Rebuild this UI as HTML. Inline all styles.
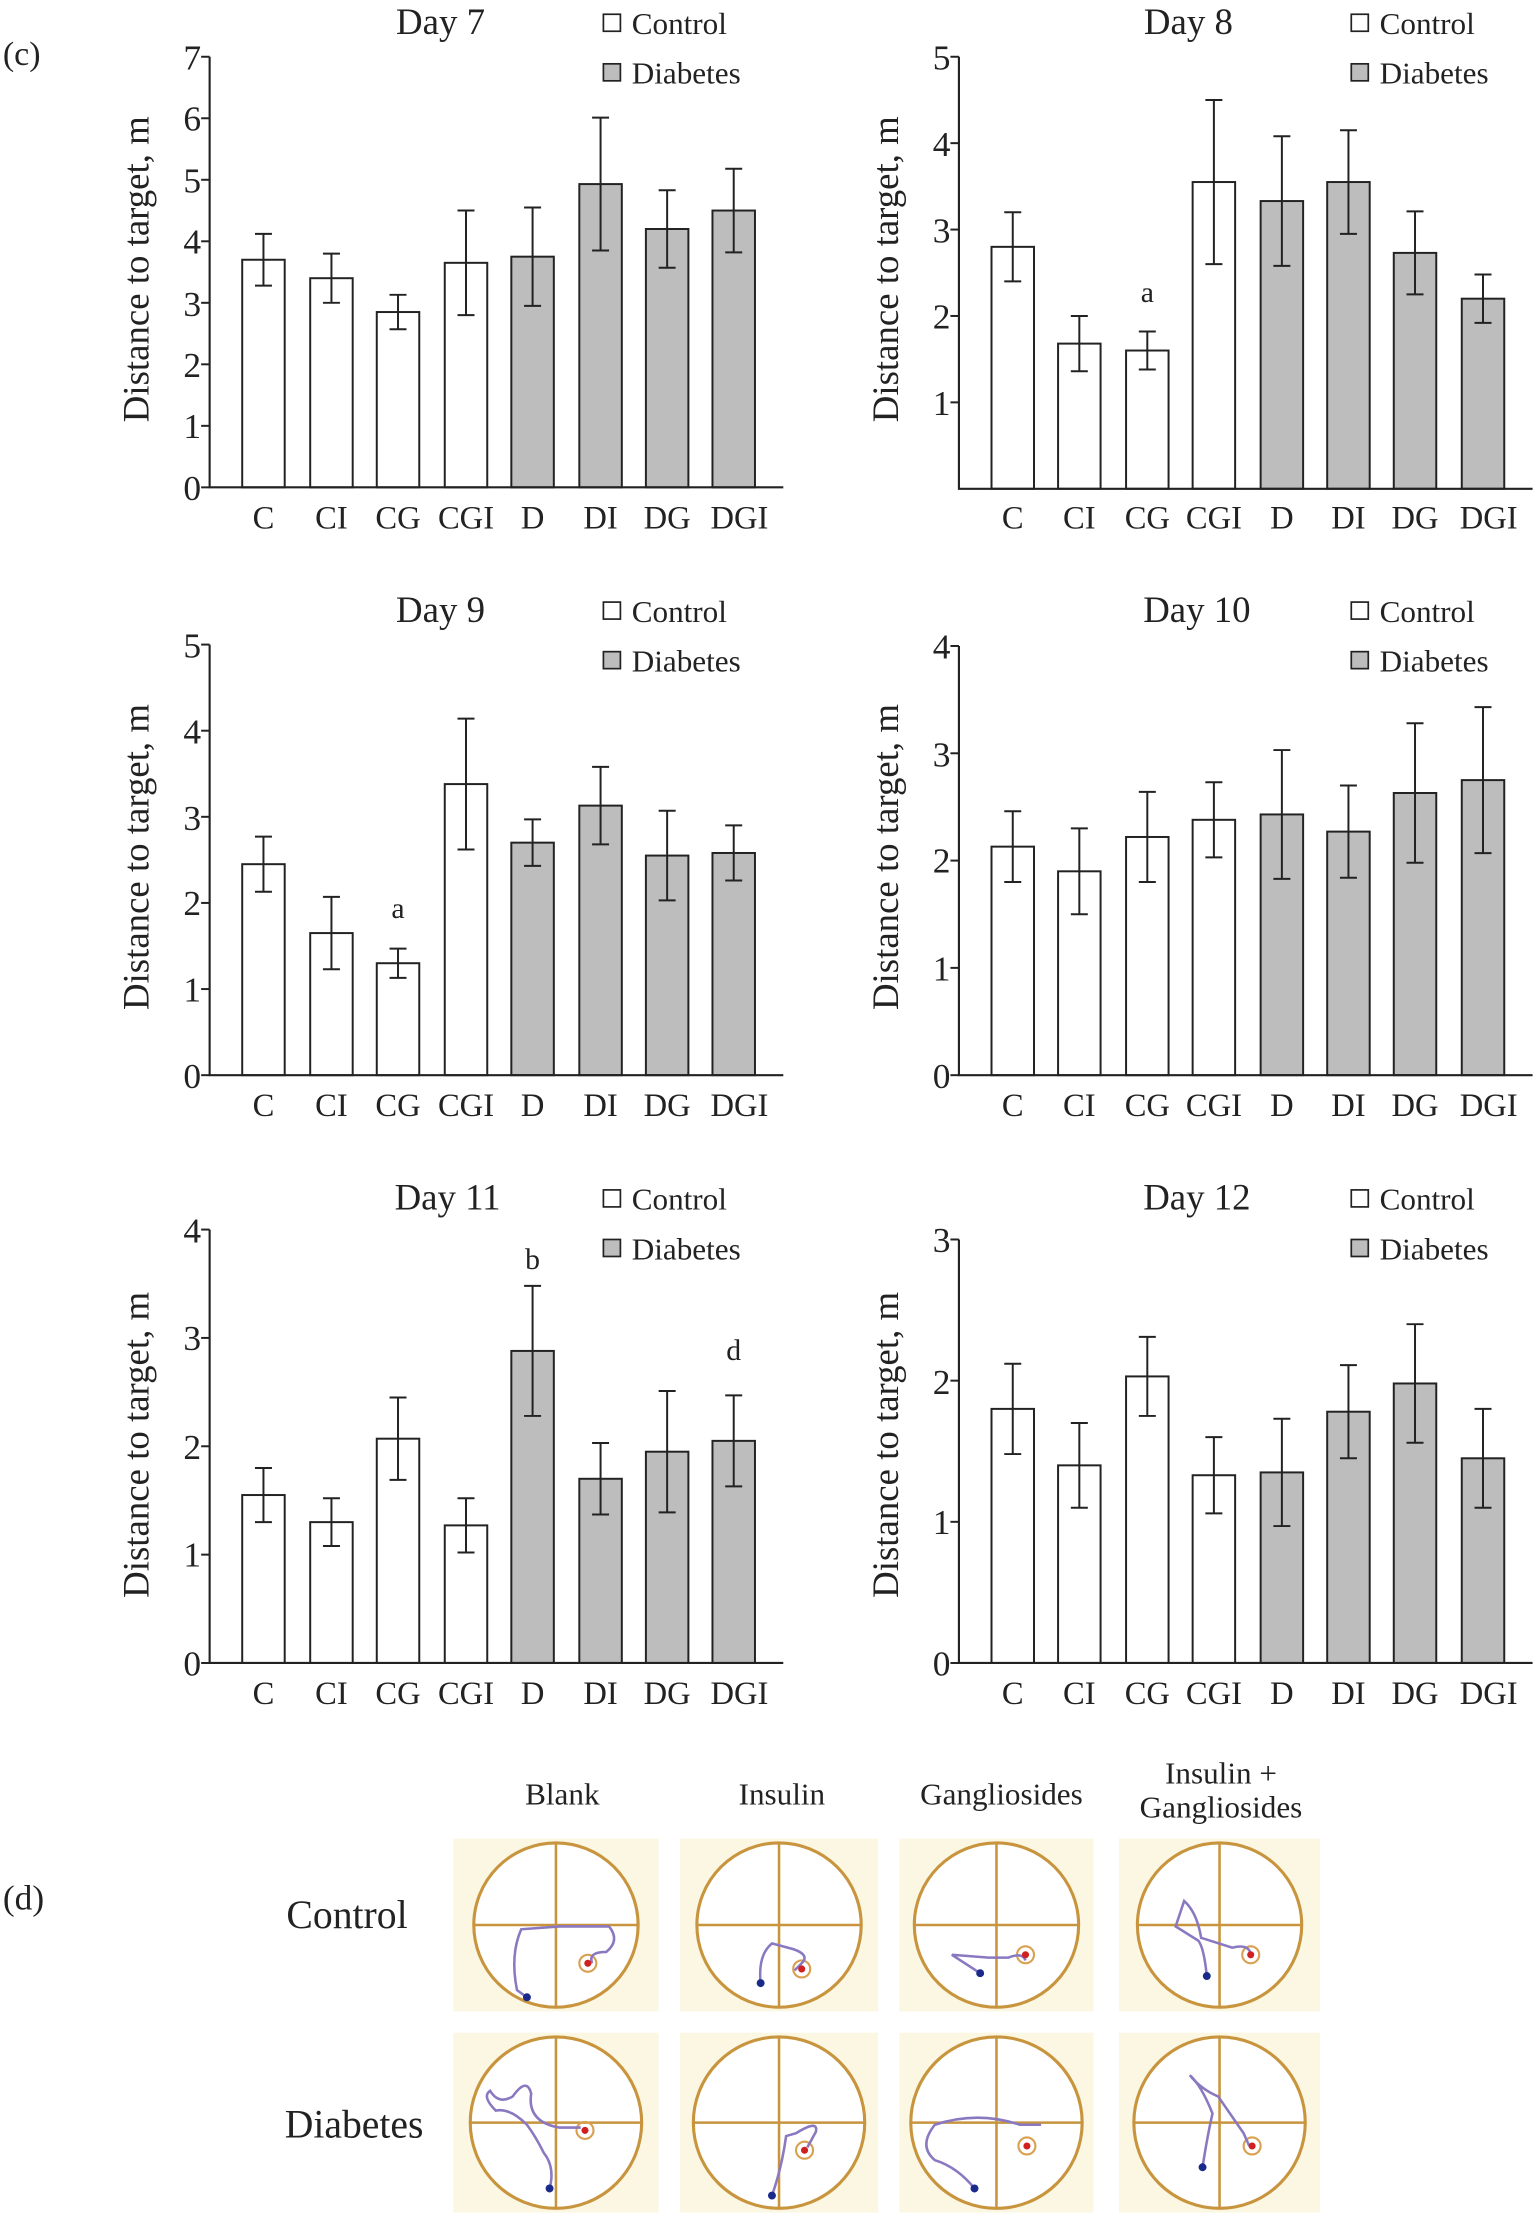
<!DOCTYPE html>
<html><head><meta charset="utf-8"><style>
html,body{margin:0;padding:0;background:#fff}
svg{display:block}
text{font-family:"Liberation Serif",serif;fill:#222}
</style></head><body>
<svg id="s" width="1534" height="2224" viewBox="0 0 1083 1570" xmlns="http://www.w3.org/2000/svg">
<g font-size="22">
<text x="2" y="46" font-size="24">(c)</text>
<g font-size="26" text-anchor="middle">
<text x="311" y="24">Day 7</text>
<text x="839" y="24">Day 8</text>
<text x="311" y="439">Day 9</text>
<text x="845" y="439">Day 10</text>
<text x="316" y="854">Day 11</text>
<text x="845" y="854">Day 12</text>
</g>
<g font-size="22">
<rect x="426" y="10" width="12" height="12" fill="#fff" stroke="#222" stroke-width="1.2"/><text x="446" y="24">Control</text>
<rect x="426" y="45" width="12" height="12" fill="#bdbdbd" stroke="#222" stroke-width="1.2"/><text x="446" y="59">Diabetes</text>
<rect x="954" y="10" width="12" height="12" fill="#fff" stroke="#222" stroke-width="1.2"/><text x="974" y="24">Control</text>
<rect x="954" y="45" width="12" height="12" fill="#bdbdbd" stroke="#222" stroke-width="1.2"/><text x="974" y="59">Diabetes</text>
<rect x="426" y="425" width="12" height="12" fill="#fff" stroke="#222" stroke-width="1.2"/><text x="446" y="439">Control</text>
<rect x="426" y="460" width="12" height="12" fill="#bdbdbd" stroke="#222" stroke-width="1.2"/><text x="446" y="474">Diabetes</text>
<rect x="954" y="425" width="12" height="12" fill="#fff" stroke="#222" stroke-width="1.2"/><text x="974" y="439">Control</text>
<rect x="954" y="460" width="12" height="12" fill="#bdbdbd" stroke="#222" stroke-width="1.2"/><text x="974" y="474">Diabetes</text>
<rect x="426" y="840" width="12" height="12" fill="#fff" stroke="#222" stroke-width="1.2"/><text x="446" y="854">Control</text>
<rect x="426" y="875" width="12" height="12" fill="#bdbdbd" stroke="#222" stroke-width="1.2"/><text x="446" y="889">Diabetes</text>
<rect x="954" y="840" width="12" height="12" fill="#fff" stroke="#222" stroke-width="1.2"/><text x="974" y="854">Control</text>
<rect x="954" y="875" width="12" height="12" fill="#bdbdbd" stroke="#222" stroke-width="1.2"/><text x="974" y="889">Diabetes</text>
</g>
<g font-size="26" text-anchor="middle">
<text transform="translate(105,190) rotate(-90)">Distance to target, m</text>
<text transform="translate(634,190) rotate(-90)">Distance to target, m</text>
<text transform="translate(105,605) rotate(-90)">Distance to target, m</text>
<text transform="translate(634,605) rotate(-90)">Distance to target, m</text>
<text transform="translate(105,1020) rotate(-90)">Distance to target, m</text>
<text transform="translate(634,1020) rotate(-90)">Distance to target, m</text>
</g>
<g text-anchor="end" font-size="25">
<text x="142" y="353">0</text><text x="142" y="309">1</text><text x="142" y="266">2</text><text x="142" y="223">3</text><text x="142" y="179">4</text><text x="142" y="136">5</text><text x="142" y="92">6</text><text x="142" y="49">7</text>
<text x="671" y="293">1</text><text x="671" y="232">2</text><text x="671" y="171">3</text><text x="671" y="110">4</text><text x="671" y="49">5</text>
<text x="142" y="768">0</text><text x="142" y="707">1</text><text x="142" y="646">2</text><text x="142" y="586">3</text><text x="142" y="525">4</text><text x="142" y="464">5</text>
<text x="671" y="768">0</text><text x="671" y="692">1</text><text x="671" y="616">2</text><text x="671" y="541">3</text><text x="671" y="465">4</text>
<text x="142" y="1183">0</text><text x="142" y="1106">1</text><text x="142" y="1030">2</text><text x="142" y="953">3</text><text x="142" y="877">4</text>
<text x="671" y="1183">0</text><text x="671" y="1083">1</text><text x="671" y="984">2</text><text x="671" y="884">3</text>
</g>
<g text-anchor="middle" font-size="23">
<text x="186" y="373">C</text><text x="234" y="373">CI</text><text x="281" y="373">CG</text><text x="329" y="373">CGI</text><text x="376" y="373">D</text><text x="424" y="373">DI</text><text x="471" y="373">DG</text><text x="522" y="373">DGI</text>
<text x="715" y="373">C</text><text x="762" y="373">CI</text><text x="810" y="373">CG</text><text x="857" y="373">CGI</text><text x="905" y="373">D</text><text x="952" y="373">DI</text><text x="999" y="373">DG</text><text x="1051" y="373">DGI</text>
<text x="186" y="788">C</text><text x="234" y="788">CI</text><text x="281" y="788">CG</text><text x="329" y="788">CGI</text><text x="376" y="788">D</text><text x="424" y="788">DI</text><text x="471" y="788">DG</text><text x="522" y="788">DGI</text>
<text x="715" y="788">C</text><text x="762" y="788">CI</text><text x="810" y="788">CG</text><text x="857" y="788">CGI</text><text x="905" y="788">D</text><text x="952" y="788">DI</text><text x="999" y="788">DG</text><text x="1051" y="788">DGI</text>
<text x="186" y="1203">C</text><text x="234" y="1203">CI</text><text x="281" y="1203">CG</text><text x="329" y="1203">CGI</text><text x="376" y="1203">D</text><text x="424" y="1203">DI</text><text x="471" y="1203">DG</text><text x="522" y="1203">DGI</text>
<text x="715" y="1203">C</text><text x="762" y="1203">CI</text><text x="810" y="1203">CG</text><text x="857" y="1203">CGI</text><text x="905" y="1203">D</text><text x="952" y="1203">DI</text><text x="999" y="1203">DG</text><text x="1051" y="1203">DGI</text>
</g>
<g text-anchor="middle" font-size="21">
<text x="810" y="213">a</text><text x="281" y="648">a</text><text x="376" y="896">b</text><text x="518" y="960">d</text>
</g>
<text x="2" y="1348" font-size="25">(d)</text>
<g font-size="22" text-anchor="middle">
<text x="397" y="1274">Blank</text><text x="552" y="1274">Insulin</text><text x="707" y="1274">Gangliosides</text>
<text x="862" y="1259">Insulin +</text><text x="862" y="1283">Gangliosides</text>
</g>
<text x="245" y="1361" font-size="28" text-anchor="middle">Control</text>
<text x="250" y="1509" font-size="28" text-anchor="middle">Diabetes</text>
</g>
<g id="g"></g>
</svg>
<script>
var g=document.getElementById('g'),NS='http://www.w3.org/2000/svg';
function el(t,a){var e=document.createElementNS(NS,t);for(var k in a)e.setAttribute(k,a[k]);g.appendChild(e);return e;}
var L=[186,234,281,329,376,424,471,518],R=[715,762,810,857,905,952,999,1047];
var P=[
 {cx:L,ax:148,xe:553,y0:344,top:40,max:7,tk:[0,1,2,3,4,5,6,7],d:[[3.7,.42],[3.4,.4],[2.85,.28],[3.65,.85],[3.75,.8],[4.93,1.08],[4.2,.63],[4.5,.68]]},
 {cx:R,ax:677,xe:1082,y0:345,top:40,max:5,tk:[1,2,3,4,5],d:[[2.8,.4],[1.68,.32],[1.6,.22],[3.55,.95],[3.33,.75],[3.55,.6],[2.73,.48],[2.2,.28]]},
 {cx:L,ax:148,xe:553,y0:759,top:455,max:5,tk:[0,1,2,3,4,5],d:[[2.45,.32],[1.65,.42],[1.3,.17],[3.38,.76],[2.7,.27],[3.13,.45],[2.55,.52],[2.58,.32]]},
 {cx:R,ax:677,xe:1082,y0:759,top:456,max:4,tk:[0,1,2,3,4],d:[[2.13,.33],[1.9,.4],[2.22,.42],[2.38,.35],[2.43,.6],[2.27,.43],[2.63,.65],[2.75,.68]]},
 {cx:L,ax:148,xe:553,y0:1174,top:868,max:4,tk:[0,1,2,3,4],d:[[1.55,.25],[1.3,.22],[2.07,.38],[1.27,.25],[2.88,.6],[1.7,.33],[1.95,.56],[2.05,.42]]},
 {cx:R,ax:677,xe:1082,y0:1174,top:875,max:3,tk:[0,1,2,3],d:[[1.8,.32],[1.4,.3],[2.03,.28],[1.33,.27],[1.35,.38],[1.78,.33],[1.98,.42],[1.45,.35]]}
];
P.forEach(function(p){
 var s=(p.y0-p.top)/p.max;
 p.d.forEach(function(v,i){
  var x=p.cx[i],y=p.y0-v[0]*s;
  el('rect',{x:x-15,y:y,width:30,height:p.y0-y,fill:i<4?'#fff':'#bdbdbd',stroke:'#222','stroke-width':1.4});
  var a=p.y0-(v[0]+v[1])*s,b=p.y0-(v[0]-v[1])*s;
  el('path',{d:'M'+x+' '+a+'V'+b+'M'+(x-6)+' '+a+'H'+(x+6)+'M'+(x-6)+' '+b+'H'+(x+6),stroke:'#222','stroke-width':1.4,fill:'none'});
 });
 el('path',{d:'M'+p.ax+' '+p.top+'V'+p.y0+'H'+p.xe,stroke:'#222','stroke-width':1.5,fill:'none'});
 p.tk.forEach(function(t){var y=p.y0-t*s;el('path',{d:'M'+(p.ax-6)+' '+y+'H'+p.ax,stroke:'#222','stroke-width':1.4});});
});
var C=[[320,465],[480,620],[635,772],[790,932]],Rw=[[1298,1420],[1435,1562]];
var paths=[
 ['M372 1410 L365 1405 Q360 1380 368 1362 L395 1360 L430 1360 Q438 1370 428 1378 Q415 1378 418 1386',415,1386],
 ['M537 1400 Q535 1380 545 1372 L560 1376 Q572 1380 566 1386 Q560 1392 562 1390',566,1390],
 ['M692 1393 L672 1380 L698 1382 L712 1382 Q722 1378 724 1384',724,1380],
 ['M852 1395 Q850 1375 846 1370 L830 1360 L836 1342 Q845 1350 848 1368 L870 1375 Q882 1372 883 1380',883,1380],
 ['M388 1545 Q392 1530 384 1520 Q378 1508 372 1500 Q360 1488 350 1490 Q340 1480 346 1476 Q352 1486 362 1480 Q372 1466 375 1478 Q372 1498 395 1502 L410 1502',413,1504],
 ['M545 1550 Q552 1530 555 1508 L562 1506 Q578 1496 576 1505 L570 1516',568,1518],
 ['M688 1545 Q676 1530 660 1525 Q648 1515 660 1500 Q690 1490 720 1500 L735 1500',725,1515],
 ['M849 1530 Q852 1510 856 1492 Q848 1472 840 1465 Q848 1475 860 1480 L878 1506 L882 1515',884,1515]
];
for(var r=0;r<2;r++)for(var c=0;c<4;c++){
 var x0=C[c][0],x1=C[c][1],y0=Rw[r][0],y1=Rw[r][1],cx=(x0+x1)/2,cy=(y0+y1)/2,rr=Math.min(x1-x0,y1-y0)/2-3;
 el('rect',{x:x0,y:y0,width:x1-x0,height:y1-y0,fill:'#fbf7e2'});
 el('circle',{cx:cx,cy:cy,r:rr,fill:'#fff',stroke:'#c8953e','stroke-width':2.2});
 el('path',{d:'M'+(cx-rr)+' '+cy+'H'+(cx+rr)+'M'+cx+' '+(cy-rr)+'V'+(cy+rr),stroke:'#c8953e','stroke-width':1.8});
 var pp=paths[r*4+c];
 el('circle',{cx:pp[1],cy:pp[2],r:6,fill:'none',stroke:'#d9a050','stroke-width':1.5});
 el('path',{d:pp[0],fill:'none',stroke:'#8a78c0','stroke-width':1.8});
 el('circle',{cx:pp[1],cy:pp[2],r:2.5,fill:'#d02020'});
 var m=pp[0].match(/M(\d+) (\d+)/);el('circle',{cx:m[1],cy:m[2],r:2.8,fill:'#1a2a8a'});
}
</script>
</body></html>
